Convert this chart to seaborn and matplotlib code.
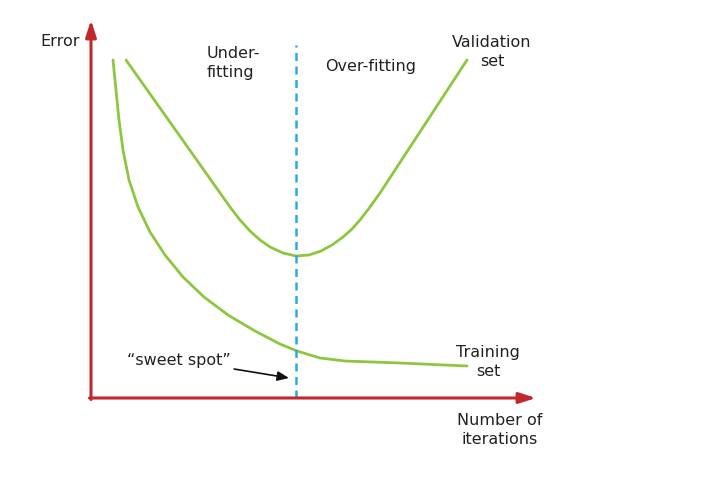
import numpy as np
import pandas as pd
import seaborn as sns
import matplotlib.pyplot as plt

# curve values (iterations, error), origin at the axes corner
train_x = [22, 25, 28, 32, 38, 47, 59, 74, 92, 113, 137, 164, 189, 206, 229, 254, 309, 376]
train_y = [338, 308, 278, 248, 218, 191, 166, 143, 121, 101, 83, 67, 54, 47, 40, 37, 35, 32]

valid_x = [35, 139, 149, 159, 169, 179, 192, 205, 218, 230, 241, 252, 261, 269, 279, 289, 376]
valid_y = [338, 191, 178, 167, 158, 151, 145, 142, 143, 147, 153, 161, 169, 178, 191, 205, 338]

sweet_spot = 205
x_end, y_end = 445, 378

labels = {
    'error': 'Error',
    'under': 'Under-\nfitting',
    'over': 'Over-fitting',
    'valid': 'Validation\nset',
    'train': 'Training\nset',
    'iter': 'Number of\niterations',
    'sweet': '\u201csweet spot\u201d',
}

green = '#8DC63F'
red = '#C1272D'
blue = '#29ABE2'

sns.set_style('white')
plt.rcParams['font.family'] = ['DejaVu Sans']

fig = plt.figure(figsize=(7.17, 4.8), dpi=100)
ax = fig.add_axes([0, 0, 1, 1])
ax.set_xlim(-91, 626)
ax.set_ylim(-82, 398)
ax.axis('off')

df = pd.concat([
    pd.DataFrame({'x': train_x, 'y': train_y, 'set': 'Training'}),
    pd.DataFrame({'x': valid_x, 'y': valid_y, 'set': 'Validation'}),
])
sns.lineplot(data=df, x='x', y='y', hue='set', palette=[green, green],
             sort=False, estimator=None, lw=2.0, legend=False, ax=ax)

# axes with arrow heads
arrow = dict(arrowstyle='-|>,head_length=1.0,head_width=0.32',
             color=red, lw=2.2, shrinkA=0, shrinkB=0)
ax.annotate('', xy=(0, y_end), xytext=(0, -1.5), arrowprops=arrow)
ax.annotate('', xy=(x_end, 0), xytext=(-1.5, 0), arrowprops=arrow)

# sweet spot line
ax.plot([sweet_spot, sweet_spot], [0, 353], color=blue, lw=1.8,
        linestyle=(0, (3.2, 2.2)))

fs = 11.5
txt = '#222222'
ax.text(-31, 356, labels['error'], fontsize=fs, ha='center', va='center', color=txt)
ax.text(116, 335, labels['under'], fontsize=fs, ha='left', va='center',
        color=txt, linespacing=1.3)
ax.text(280, 332, labels['over'], fontsize=fs, ha='center', va='center', color=txt)
ax.text(401, 346, labels['valid'], fontsize=fs, ha='center', va='center',
        color=txt, linespacing=1.3)
ax.text(397, 36, labels['train'], fontsize=fs, ha='center', va='center',
        color=txt, linespacing=1.3)
ax.text(409, -32, labels['iter'], fontsize=fs, ha='center', va='center',
        color=txt, linespacing=1.3)
ax.annotate(labels['sweet'], xy=(198, 20), xytext=(88, 38), fontsize=fs,
            ha='center', va='center', color=txt,
            arrowprops=dict(arrowstyle='-|>,head_length=0.6,head_width=0.25',
                            color='#111111', lw=1.2, shrinkA=46, shrinkB=0))

fig.savefig('out.png', dpi=100)
